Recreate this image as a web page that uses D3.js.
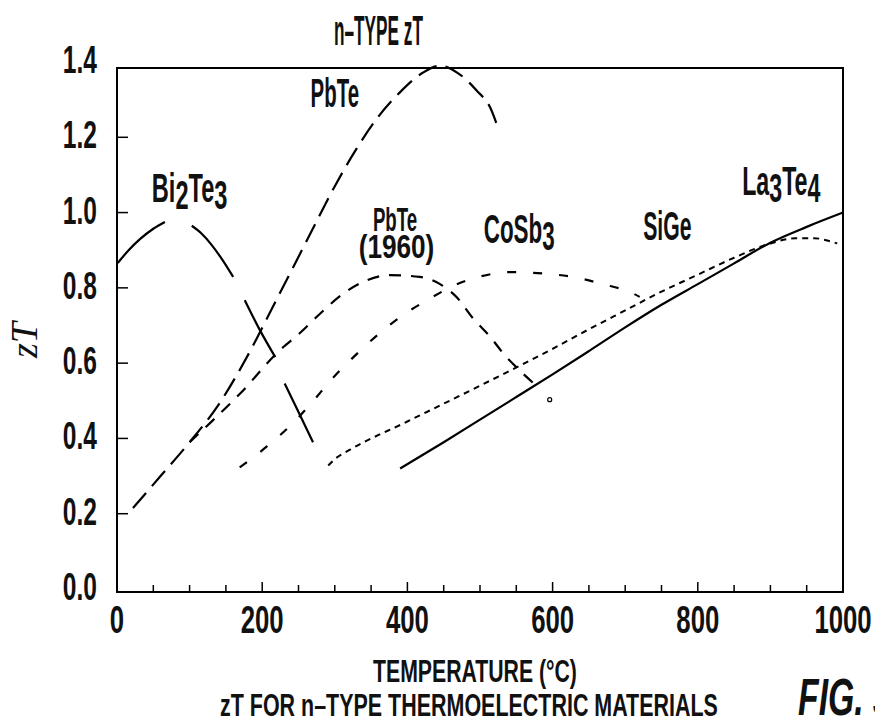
<!DOCTYPE html>
<html>
<head>
<meta charset="utf-8">
<script src="https://cdn.jsdelivr.net/npm/d3@7"></script>
<style>
  body { margin: 0; background: #fff; }
  text { font-family: "Liberation Sans Narrow", "Liberation Sans", sans-serif; fill: #111; }
</style>
</head>
<body>
<script>
// n-type zT vs temperature
var xTicks = [0, 200, 400, 600, 800, 1000];
var xMinor = d3.range(50, 1000, 50);
var yTicks = [0.0, 0.2, 0.4, 0.6, 0.8, 1.0, 1.2, 1.4];

// null = gap in the drawn curve
var bi2te3 = [[1, 0.866], [16, 0.9], [32, 0.93], [50, 0.957], [66, 0.975], null,
  [103, 0.965], [116, 0.945], [130, 0.915], [145, 0.875], [160, 0.829], null,
  [176, 0.767], [197, 0.687], [218, 0.616], null,
  [231, 0.546], [250, 0.47], [270, 0.39]];

var pbte = [[22, 0.215], [60, 0.3], [100, 0.39], [140, 0.49], [180, 0.62], [220, 0.77],
  [260, 0.92], [300, 1.07], [330, 1.17], [360, 1.255], [390, 1.32], [420, 1.37],
  [445, 1.39], [470, 1.37], [495, 1.325], [515, 1.275], [523, 1.235]];

var pbte1960 = [[100, 0.39], [132, 0.448], [170, 0.52], [224, 0.634], [252, 0.68], [280, 0.732],
  [312, 0.785], [344, 0.82], [376, 0.834], [417, 0.829], [445, 0.81], [468, 0.775],
  [490, 0.72], [514, 0.67], [532, 0.626], [555, 0.58], [580, 0.536]];
var pbte1960End = [596, 0.503];

var cosb3 = [[169, 0.323], [206, 0.378], [247, 0.45], [266, 0.49], [298, 0.562], [330, 0.624],
  [362, 0.68], [394, 0.728], [427, 0.767], [463, 0.805], [500, 0.83], [545, 0.842],
  [587, 0.838], [628, 0.829], [669, 0.81], [711, 0.785], [720, 0.776]];

var sige = [[291, 0.328], [300, 0.345], [321, 0.37], [400, 0.445], [500, 0.54], [600, 0.638],
  [650, 0.69], [700, 0.74], [750, 0.79], [800, 0.835], [850, 0.88], [900, 0.918],
  [935, 0.932], [960, 0.932], [980, 0.925], [992, 0.918]];

var la3te4 = [[390, 0.32], [450, 0.39], [500, 0.45], [550, 0.51], [600, 0.57], [650, 0.632],
  [700, 0.695], [750, 0.755], [800, 0.81], [850, 0.865], [900, 0.92], [950, 0.962], [1000, 1.0]];

var width = 875, height = 723;

var x = d3.scaleLinear().domain([0, 1000]).range([117, 843]);
var y = d3.scaleLinear().domain([0, 1.4]).range([589, 62]);

var svg = d3.select("body").append("svg")
    .attr("width", width)
    .attr("height", height);

// squeezed condensed text, like the old patent lettering
function txt(g, tx, ty, size, k, anchor) {
  return g.append("text")
      .attr("transform", `translate(${tx},${ty}) scale(${k},1)`)
      .attr("font-size", size)
      .attr("font-weight", "bold")
      .attr("text-anchor", anchor || "middle");
}

// squeeze a text to a given width (left edge at tx)
function fitTxt(g, tx, ty, size, w, s) {
  var t = g.append("text")
      .attr("font-size", size)
      .attr("font-weight", "bold")
      .text(s);
  var k = w / t.node().getComputedTextLength();
  t.attr("transform", `translate(${tx},${ty}) scale(${k},1)`);
  return t;
}

// frame
svg.append("rect")
    .attr("x", x(0))
    .attr("y", 68)
    .attr("width", x(1000) - x(0))
    .attr("height", 592 - 68)
    .attr("fill", "none")
    .attr("stroke", "#000")
    .attr("stroke-width", 2);

// x ticks (inward)
svg.append("g").selectAll("line")
  .data(xMinor)
  .join("line")
    .attr("x1", d => x(d)).attr("x2", d => x(d))
    .attr("y1", 592)
    .attr("y2", d => d % 200 == 0 ? 582 : 585)
    .attr("stroke", "#000")
    .attr("stroke-width", 1.5);

// y ticks (inward)
svg.append("g").selectAll("line")
  .data(yTicks.filter(d => d > 0 && d < 1.3))
  .join("line")
    .attr("x1", x(0)).attr("x2", x(0) + 11)
    .attr("y1", d => y(d)).attr("y2", d => y(d))
    .attr("stroke", "#000")
    .attr("stroke-width", 1.5);

xTicks.forEach(d => txt(svg, x(d), 633, 39, 0.66).text(d));
yTicks.forEach(d => txt(svg, 97, y(d) + 11, 39, 0.63, "end").text(d3.format(".1f")(d)));

// curves
var line = d3.line()
    .defined(d => d)
    .x(d => x(d[0]))
    .y(d => y(d[1]))
    .curve(d3.curveMonotoneX);

var series = [
  {data: bi2te3, dash: null, w: 2.2},
  {data: pbte, dash: "20,9", w: 2.2},
  {data: pbte1960, dash: "12,10", w: 2.2},
  {data: cosb3, dash: "9,17", w: 2.2},
  {data: sige, dash: "6,5", w: 2},
  {data: la3te4, dash: null, w: 2.2}
];

svg.append("g").selectAll("path")
  .data(series)
  .join("path")
    .attr("d", d => line(d.data))
    .attr("fill", "none")
    .attr("stroke", "#000")
    .attr("stroke-width", d => d.w)
    .attr("stroke-dasharray", d => d.dash);

svg.append("circle")
    .attr("cx", x(pbte1960End[0]))
    .attr("cy", y(pbte1960End[1]))
    .attr("r", 2)
    .attr("fill", "none")
    .attr("stroke", "#000")
    .attr("stroke-width", 1.2);

// curve labels
function sub(t, parts) {
  parts.forEach((p, i) => {
    t.append("tspan")
        .attr("dy", i == 0 ? 0 : (p.s ? 7 : -7))
        .text(p.t);
  });
  return t;
}

txt(svg, x(300), y(1.28), 40, 0.51).text("PbTe");
sub(txt(svg, x(100), y(1.028), 40, 0.59), [{t: "Bi"}, {t: "2", s: 1}, {t: "Te"}, {t: "3", s: 1}]);
txt(svg, x(383), y(0.951), 34, 0.55).text("PbTe");
txt(svg, x(385), y(0.879), 34, 0.77).text("(1960)");
sub(txt(svg, x(554), y(0.918), 40, 0.56), [{t: "CoSb"}, {t: "3", s: 1}]);
txt(svg, x(758), y(0.927), 40, 0.53).text("SiGe");
sub(txt(svg, x(915), y(1.046), 40, 0.58), [{t: "La"}, {t: "3", s: 1}, {t: "Te"}, {t: "4", s: 1}]);

// titles
fitTxt(svg, 334, 45, 42, 89, "n\u2013TYPE zT");

svg.append("text")
    .attr("transform", "translate(37,340) rotate(-90)")
    .attr("text-anchor", "middle")
    .style("font-family", "'Liberation Serif', serif")
    .style("font-style", "italic")
    .attr("font-size", 38)
    .text("zT");

fitTxt(svg, 373, 682, 31, 204, "TEMPERATURE (\u00B0C)");
fitTxt(svg, 220, 716, 31, 498, "zT FOR n\u2013TYPE THERMOELECTRIC MATERIALS");

txt(svg, 798, 715, 52, 0.65, "start")
    .style("font-style", "italic")
    .text("FIG. 3");
</script>
</body>
</html>
